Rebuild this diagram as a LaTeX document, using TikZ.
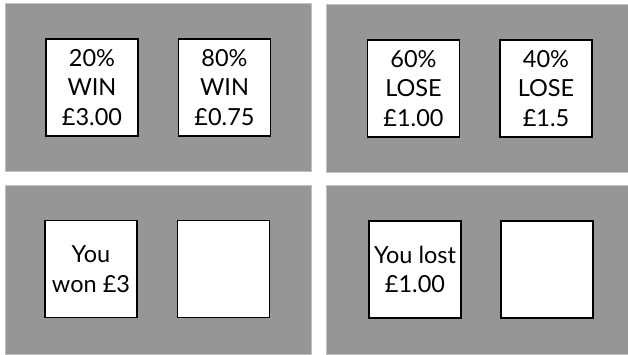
\documentclass[tikz,border=0pt]{standalone}
\usepackage{fontspec}
\setmainfont{Lato}
\definecolor{panelgray}{RGB}{150,150,150}
\tikzset{
  panel/.style={fill=panelgray, draw=panelgray!60!white, line width=0.6pt},
  card/.style={draw=black, fill=white, line width=1.5pt, minimum width=92pt, minimum height=97pt, inner sep=0pt, align=center, font=\fontsize{23.5}{29.5}\selectfont}
}
\begin{document}
\begin{tikzpicture}[x=1pt,y=-1pt]
\useasboundingbox[fill=white] (0,0) rectangle (628,354);
\path[panel] (5,3) rectangle (311,171);
\path[panel] (326,4) rectangle (628,172);
\path[panel] (5,185) rectangle (311,354);
\path[panel] (326,185) rectangle (628,354);
\node[card] (w1) at (92,87.5) {20\%\\WIN\\£3.00};
\node[card] (w2) at (224.5,87.5) {80\%\\WIN\\£0.75};
\node[card] (l1) at (413.5,88.5) {60\%\\LOSE\\£1.00};
\node[card] (l2) at (546,88.5) {40\%\\LOSE\\£1.5};
\node[card] (r1) at (91,269) {You\\won £3};
\node[card] (r2) at (223.5,269) {};
\node[card] (r3) at (415,269.5) {You lost\\£1.00};
\node[card] (r4) at (547,269.5) {};
\end{tikzpicture}
\end{document}
